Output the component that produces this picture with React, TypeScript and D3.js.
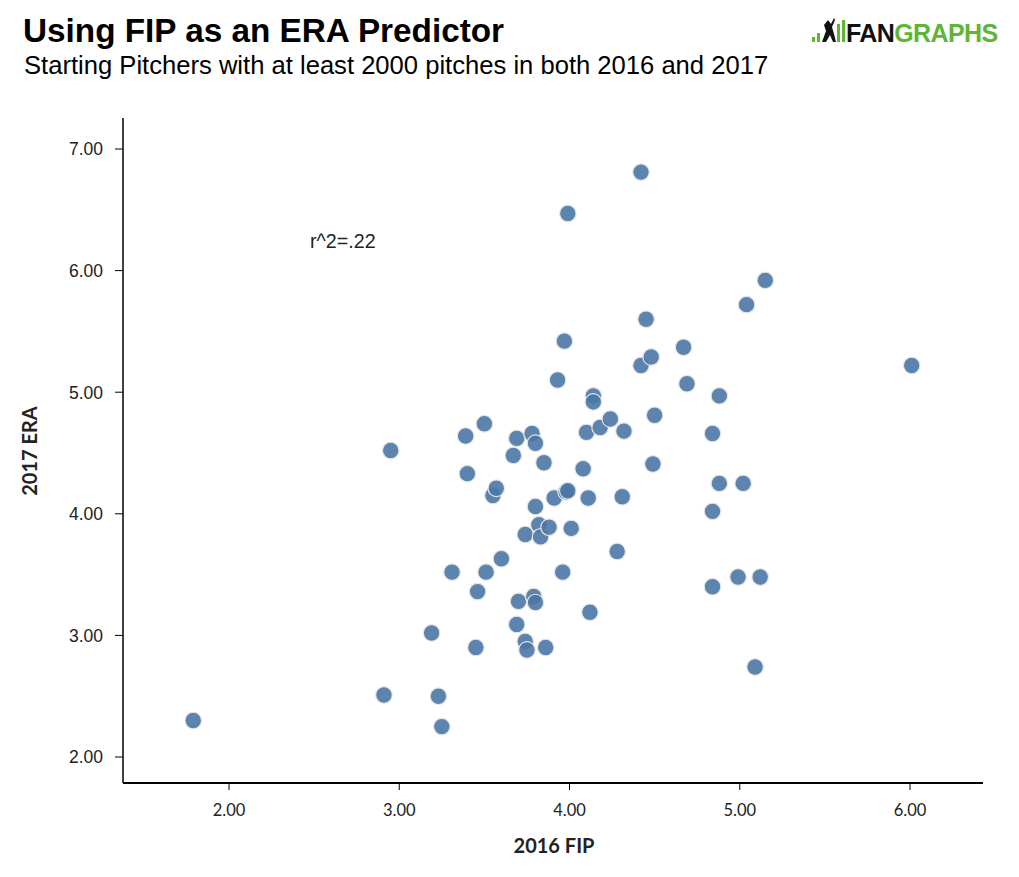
import React from "react";
import * as d3 from "d3";

const fip2016: number[] = [
  1.79, 2.91, 3.23, 3.25, 2.95, 3.19, 3.31, 3.45, 3.46, 3.51,
  3.39, 3.40, 3.50, 3.55, 3.57, 3.60, 3.67, 3.69, 3.69, 3.70,
  3.74, 3.74, 3.75, 3.78, 3.80, 3.79, 3.80, 3.80, 3.82, 3.83,
  3.85, 3.86, 3.88, 3.91, 3.93, 3.96, 3.97, 3.98, 3.99, 3.99,
  4.01, 4.08, 4.10, 4.11, 4.12, 4.14, 4.14, 4.18, 4.24, 4.28,
  4.31, 4.32, 4.42, 4.42, 4.45, 4.48, 4.49, 4.50, 4.67, 4.69,
  4.84, 4.84, 4.84, 4.88, 4.88, 4.99, 5.02, 5.04, 5.09, 5.12,
  5.15, 6.01,
];
const era2017: number[] = [
  2.30, 2.51, 2.50, 2.25, 4.52, 3.02, 3.52, 2.90, 3.36, 3.52,
  4.64, 4.33, 4.74, 4.15, 4.21, 3.63, 4.48, 4.62, 3.09, 3.28,
  3.83, 2.95, 2.88, 4.66, 4.58, 3.32, 3.27, 4.06, 3.91, 3.81,
  4.42, 2.90, 3.89, 4.13, 5.10, 3.52, 5.42, 4.18, 6.47, 4.19,
  3.88, 4.37, 4.67, 4.13, 3.19, 4.97, 4.92, 4.71, 4.78, 3.69,
  4.14, 4.68, 6.81, 5.22, 5.60, 5.29, 4.41, 4.81, 5.37, 5.07,
  4.66, 4.02, 3.40, 4.97, 4.25, 3.48, 4.25, 5.72, 2.74, 3.48,
  5.92, 5.22,
];
const xTicks: number[] = [2, 3, 4, 5, 6];
const yTicks: number[] = [2, 3, 4, 5, 6, 7];

const TITLE = "Using FIP as an ERA Predictor";
const SUBTITLE = "Starting Pitchers with at least 2000 pitches in both 2016 and 2017";
const X_LABEL = "2016 FIP";
const Y_LABEL = "2017 ERA";
const ANNOT = "r^2=.22";

export default function App() {
  const W = 1019;
  const H = 877;
  const left = 123, right = 983, top = 118, bottom = 783;
  const x = d3.scaleLinear().domain([2, 6]).range([229, 910]);
  const y = d3.scaleLinear().domain([2, 7]).range([757, 149]);
  const fmt = d3.format(".2f");
  const points = fip2016.map((v, i) => ({ x: v, y: era2017[i] }));

  return (
    <svg width={W} height={H} style={{ position: "absolute", left: 0, top: 0 }}>
      <rect width={W} height={H} fill="#fff" />
      <text x={23} y={42} fontFamily="Liberation Sans, Arial, sans-serif" fontWeight="bold" fontSize={33.3} fill="#000">{TITLE}</text>
      <text x={24} y={74} fontFamily="Liberation Sans, Arial, sans-serif" fontSize={25.6} fill="#000">{SUBTITLE}</text>

      {/* logo */}
      <g>
        <rect x={812} y={37} width={3} height={5} fill="#5fb534" />
        <rect x={817} y={33} width={3} height={9} fill="#5fb534" />
        <path d="M822,42 L826,31 L824,25 L828,20 L831,24 L834,18 L835,20 L832,27 L834,34 L836,42 L833,42 L830,35 L826,42 Z" fill="#111" />
        <rect x={837} y={24} width={3} height={18} fill="#5fb534" />
        <rect x={842} y={20} width={3} height={22} fill="#5fb534" />
        <text x={846} y={42} fontFamily="Liberation Sans, Arial, sans-serif" fontWeight="bold" fontSize={25} letterSpacing={-0.6}>
          <tspan fill="#111">FAN</tspan>
          <tspan fill="#5fb534">GRAPHS</tspan>
        </text>
      </g>

      {/* axes */}
      <line x1={left} y1={top} x2={left} y2={bottom} stroke="#000" strokeWidth={1.5} />
      <line x1={left} y1={bottom} x2={right} y2={bottom} stroke="#000" strokeWidth={2} />
      {yTicks.map((t) => (
        <g key={"y" + t}>
          <line x1={left - 8} x2={left} y1={y(t)} y2={y(t)} stroke="#000" />
          <text x={103} y={y(t)} dy="0.36em" textAnchor="end" fontFamily="Liberation Sans, Arial, sans-serif" fontSize={17.5} fill="#222">{fmt(t)}</text>
        </g>
      ))}
      {xTicks.map((t) => (
        <g key={"x" + t}>
          <line x1={x(t)} x2={x(t)} y1={bottom} y2={bottom + 7} stroke="#000" />
          <text x={x(t)} y={815.5} textAnchor="middle" fontFamily="Lato, sans-serif" fontSize={16.5} fill="#222">{fmt(t)}</text>
        </g>
      ))}
      <text x={554} y={853} textAnchor="middle" fontFamily="Lato, sans-serif" fontWeight="bold" fontSize={20} fill="#222">{X_LABEL}</text>
      <text transform="translate(37,451) rotate(-90)" textAnchor="middle" fontFamily="Lato, sans-serif" fontWeight="bold" fontSize={20} fill="#222">{Y_LABEL}</text>

      <text x={310} y={248} fontFamily="Liberation Sans, Arial, sans-serif" fontSize={19.7} fill="#222">{ANNOT}</text>

      {points.map((p, i) => (
        <circle key={i} cx={x(p.x)} cy={y(p.y)} r={8.3} fill="#4a77a5" fillOpacity={0.9} stroke="#e6e6e6" strokeWidth={1.2} />
      ))}
    </svg>
  );
}
